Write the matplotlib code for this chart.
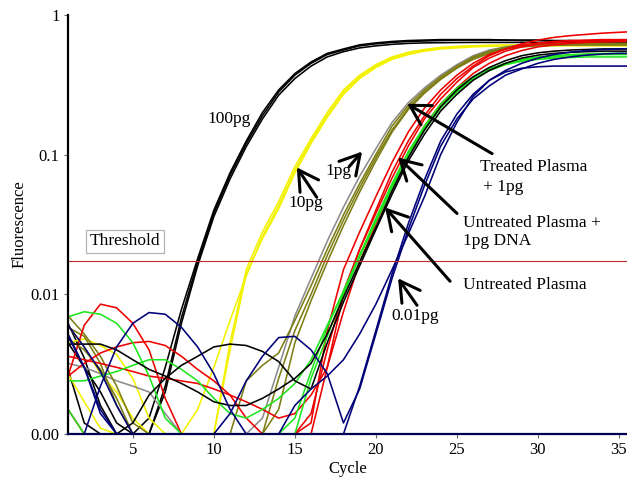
import matplotlib
matplotlib.use("Agg")
import matplotlib.pyplot as plt
from matplotlib.ticker import FixedLocator, FixedFormatter, NullLocator

plt.rcParams['font.family'] = ['Liberation Serif', 'DejaVu Serif']

cycles = list(range(1, 37))

# 100 pg standard (black)
std_100pg_a = [0.0062, 0.0035, 0.0016, 0.001, 0.001, 0.001, 0.0022, 0.0068, 0.017, 0.038, 0.071, 0.12,
               0.19, 0.28, 0.37, 0.45, 0.52, 0.56, 0.60, 0.62, 0.635, 0.645, 0.65, 0.655,
               0.66, 0.66, 0.66, 0.66, 0.655, 0.655, 0.65, 0.65, 0.645, 0.645, 0.64, 0.64]
std_100pg_b = [0.0029, 0.0012, 0.001, 0.001, 0.001, 0.001, 0.0020, 0.0062, 0.016, 0.036, 0.067, 0.114,
               0.18, 0.266, 0.35, 0.43, 0.50, 0.545, 0.58, 0.60, 0.615, 0.625, 0.63, 0.632,
               0.634, 0.635, 0.635, 0.635, 0.635, 0.634, 0.633, 0.632, 0.631, 0.63, 0.63, 0.63]
std_100pg_c = [0.0045, 0.0030, 0.0020, 0.0012, 0.001, 0.0013, 0.0030, 0.0078, 0.018, 0.040, 0.074, 0.125,
               0.20, 0.29, 0.38, 0.46, 0.53, 0.57, 0.61, 0.63, 0.645, 0.655, 0.66, 0.665,
               0.665, 0.665, 0.665, 0.66, 0.66, 0.66, 0.655, 0.655, 0.65, 0.65, 0.65, 0.65]

# 10 pg standard (yellow)
std_10pg_a = [0.0060, 0.0042, 0.0027, 0.0020, 0.0013, 0.001, 0.001, 0.001, 0.0015, 0.0030, 0.0065, 0.0135,
              0.026, 0.043, 0.077, 0.125, 0.19, 0.28, 0.36, 0.43, 0.49, 0.53, 0.56, 0.58,
              0.59, 0.60, 0.603, 0.605, 0.606, 0.607, 0.607, 0.607, 0.606, 0.605, 0.604, 0.603]
std_10pg_b = [0.0045, 0.0048, 0.0043, 0.0037, 0.0025, 0.0013, 0.001, 0.001, 0.001, 0.0010, 0.0045, 0.015,
              0.028, 0.046, 0.082, 0.13, 0.20, 0.29, 0.37, 0.44, 0.50, 0.54, 0.565, 0.585,
              0.595, 0.60, 0.605, 0.608, 0.61, 0.61, 0.61, 0.61, 0.61, 0.61, 0.61, 0.61]
std_10pg_c = [0.0027, 0.0017, 0.0011, 0.001, 0.001, 0.001, 0.001, 0.001, 0.001, 0.001, 0.0040, 0.014,
              0.025, 0.041, 0.074, 0.12, 0.185, 0.27, 0.35, 0.42, 0.48, 0.52, 0.55, 0.57,
              0.58, 0.59, 0.595, 0.598, 0.60, 0.60, 0.60, 0.60, 0.60, 0.60, 0.60, 0.60]

# 1 pg standard / treated plasma + 1 pg (olive, grey)
treated_1pg_a = [0.0058, 0.0050, 0.0032, 0.0016, 0.001, 0.001, 0.001, 0.001, 0.001, 0.001, 0.0010, 0.0024,
                 0.0031, 0.0038, 0.0065, 0.0115, 0.021, 0.037, 0.062, 0.10, 0.16, 0.225, 0.29, 0.36,
                 0.43, 0.50, 0.55, 0.585, 0.605, 0.615, 0.62, 0.622, 0.624, 0.625, 0.625, 0.625]
treated_1pg_b = [0.0048, 0.0040, 0.0029, 0.0018, 0.0010, 0.001, 0.001, 0.001, 0.001, 0.001, 0.001, 0.001,
                 0.0010, 0.0025, 0.0055, 0.0100, 0.019, 0.034, 0.058, 0.095, 0.15, 0.215, 0.28, 0.35,
                 0.42, 0.49, 0.54, 0.575, 0.595, 0.605, 0.61, 0.61, 0.61, 0.61, 0.61, 0.61]
treated_1pg_c = [0.0070, 0.0052, 0.0036, 0.0022, 0.0012, 0.001, 0.001, 0.001, 0.001, 0.001, 0.001, 0.001,
                 0.001, 0.0015, 0.0045, 0.0090, 0.017, 0.031, 0.054, 0.09, 0.145, 0.21, 0.275, 0.345,
                 0.415, 0.48, 0.53, 0.57, 0.59, 0.60, 0.605, 0.608, 0.61, 0.61, 0.61, 0.61]
std_1pg = [0.0032, 0.0030, 0.0027, 0.0024, 0.0022, 0.0020, 0.0014, 0.001, 0.001, 0.001, 0.001, 0.001,
           0.0013, 0.0030, 0.0070, 0.013, 0.024, 0.042, 0.07, 0.11, 0.17, 0.235, 0.30, 0.37,
           0.44, 0.51, 0.56, 0.59, 0.61, 0.62, 0.62, 0.62, 0.62, 0.62, 0.62, 0.62]

# Untreated plasma + 1 pg DNA (red)
spiked_a = [0.0026, 0.0060, 0.0085, 0.0080, 0.0062, 0.0040, 0.0018, 0.001, 0.001, 0.001, 0.001, 0.001,
            0.001, 0.001, 0.001, 0.001, 0.0030, 0.0100, 0.021, 0.040, 0.075, 0.125, 0.19, 0.27,
            0.35, 0.43, 0.51, 0.57, 0.62, 0.66, 0.69, 0.71, 0.725, 0.74, 0.75, 0.76]
spiked_b = [0.0026, 0.0032, 0.0038, 0.0042, 0.0045, 0.0046, 0.0043, 0.0036, 0.0029, 0.0024, 0.0019, 0.0013,
            0.001, 0.001, 0.001, 0.0014, 0.0040, 0.0105, 0.021, 0.038, 0.068, 0.115, 0.18, 0.25,
            0.33, 0.42, 0.49, 0.55, 0.59, 0.615, 0.63, 0.64, 0.645, 0.65, 0.655, 0.655]
spiked_c = [0.0036, 0.0034, 0.0032, 0.0030, 0.0028, 0.0026, 0.0025, 0.0024, 0.0023, 0.0021, 0.0019, 0.0017,
            0.0015, 0.0013, 0.0014, 0.0019, 0.0030, 0.0075, 0.017, 0.032, 0.059, 0.10, 0.16, 0.23,
            0.30, 0.38, 0.45, 0.51, 0.555, 0.59, 0.61, 0.625, 0.635, 0.64, 0.645, 0.645]
spiked_d = [0.0015, 0.0010, 0.001, 0.001, 0.001, 0.001, 0.001, 0.001, 0.001, 0.001, 0.001, 0.001,
            0.001, 0.001, 0.001, 0.0012, 0.0055, 0.0150, 0.028, 0.050, 0.088, 0.145, 0.215, 0.29,
            0.37, 0.45, 0.52, 0.57, 0.605, 0.63, 0.645, 0.655, 0.66, 0.665, 0.665, 0.665]

# Untreated plasma (green, black)
plasma_a = [0.0069, 0.0075, 0.0072, 0.0062, 0.0045, 0.0026, 0.0013, 0.001, 0.001, 0.001, 0.001, 0.001,
            0.001, 0.001, 0.0013, 0.0028, 0.0058, 0.0105, 0.019, 0.034, 0.06, 0.10, 0.155, 0.22,
            0.29, 0.35, 0.40, 0.44, 0.465, 0.48, 0.49, 0.495, 0.50, 0.50, 0.50, 0.50]
plasma_b = [0.0024, 0.0024, 0.0026, 0.0028, 0.0031, 0.0034, 0.0034, 0.0029, 0.0024, 0.0018, 0.0014, 0.0013,
            0.0015, 0.0018, 0.0023, 0.0034, 0.0060, 0.0105, 0.019, 0.035, 0.062, 0.105, 0.16, 0.23,
            0.30, 0.36, 0.41, 0.45, 0.48, 0.50, 0.51, 0.52, 0.525, 0.53, 0.53, 0.53]
plasma_c = [0.0015, 0.001, 0.001, 0.001, 0.001, 0.001, 0.001, 0.001, 0.001, 0.001, 0.001, 0.001,
            0.001, 0.001, 0.0010, 0.0025, 0.0050, 0.0100, 0.0185, 0.033, 0.058, 0.098, 0.15, 0.215,
            0.28, 0.345, 0.40, 0.445, 0.475, 0.49, 0.50, 0.51, 0.515, 0.52, 0.52, 0.52]
plasma_d = [0.0044, 0.0044, 0.0044, 0.0040, 0.0034, 0.0029, 0.0026, 0.0023, 0.0020, 0.0017, 0.0016, 0.0016,
            0.0018, 0.0021, 0.0025, 0.0032, 0.0052, 0.0095, 0.017, 0.030, 0.055, 0.095, 0.15, 0.22,
            0.29, 0.36, 0.42, 0.47, 0.51, 0.535, 0.55, 0.56, 0.565, 0.57, 0.57, 0.57]
plasma_e = [0.001, 0.001, 0.001, 0.001, 0.0012, 0.0019, 0.0025, 0.0031, 0.0036, 0.0042, 0.0044, 0.0043,
            0.0039, 0.0033, 0.0024, 0.0021, 0.0045, 0.0088, 0.0160, 0.029, 0.052, 0.09, 0.14, 0.205,
            0.27, 0.34, 0.40, 0.45, 0.49, 0.515, 0.53, 0.54, 0.545, 0.55, 0.55, 0.55]

# 0.01 pg standard and no-template control (navy)
std_001pg_a = [0.0052, 0.0030, 0.0015, 0.001, 0.001, 0.001, 0.001, 0.001, 0.001, 0.001, 0.0014, 0.0024,
               0.0036, 0.0049, 0.0050, 0.0040, 0.0027, 0.0012, 0.0021, 0.0052, 0.013, 0.029, 0.060, 0.115,
               0.18, 0.25, 0.31, 0.37, 0.41, 0.45, 0.48, 0.50, 0.515, 0.525, 0.53, 0.53]
std_001pg_b = [0.001, 0.0010, 0.0022, 0.0042, 0.0062, 0.0074, 0.0072, 0.0058, 0.0042, 0.0027, 0.0015, 0.001,
               0.001, 0.001, 0.001, 0.001, 0.001, 0.0010, 0.0022, 0.0055, 0.014, 0.032, 0.066, 0.125,
               0.195, 0.27, 0.34, 0.40, 0.45, 0.49, 0.52, 0.54, 0.555, 0.565, 0.57, 0.575]
std_001pg_c = [0.0060, 0.0042, 0.0028, 0.0016, 0.0010, 0.001, 0.001, 0.001, 0.001, 0.001, 0.001, 0.001,
               0.001, 0.0010, 0.0016, 0.0021, 0.0026, 0.0034, 0.0052, 0.0085, 0.0150, 0.027, 0.050, 0.10,
               0.17, 0.26, 0.34, 0.39, 0.415, 0.425, 0.43, 0.43, 0.43, 0.43, 0.43, 0.43]
ntc = [0.0050, 0.0030, 0.0014] + [0.001] * 33

threshold = 0.0172

y_ticks = [0.001, 0.01, 0.1, 1]
y_tick_labels = ['0.00', '0.01', '0.1', '1']
x_ticks = [5, 10, 15, 20, 25, 30, 35]

BLACK, YELLOW, OLIVE, GREY = '#000000', '#f2f200', '#7d7d14', '#8c8c8c'
RED, GREEN, NAVY = '#ee0000', '#1ee61e', '#000078'

series = [
    (std_100pg_a, BLACK), (std_100pg_b, BLACK), (std_100pg_c, BLACK),
    (std_10pg_a, YELLOW), (std_10pg_b, YELLOW), (std_10pg_c, YELLOW),
    (std_1pg, GREY),
    (treated_1pg_a, OLIVE), (treated_1pg_b, OLIVE), (treated_1pg_c, OLIVE),
    (spiked_a, RED), (spiked_b, RED), (spiked_c, RED), (spiked_d, RED),
    (plasma_a, GREEN), (plasma_b, GREEN), (plasma_c, GREEN),
    (plasma_d, BLACK), (plasma_e, BLACK),
    (std_001pg_a, NAVY), (std_001pg_b, NAVY), (std_001pg_c, NAVY), (ntc, NAVY),
]

fig = plt.figure(figsize=(6.27, 4.84), dpi=100)
ax = fig.add_axes([0.1085, 0.1033, 0.8915, 0.866])

for vals, col in series:
    ax.plot(cycles, vals, color=col, lw=1.15, solid_joinstyle='round')

ax.axhline(threshold, color='#c42a2a', lw=0.8)

ax.set_yscale('log')
ax.set_ylim(0.001, 1)
ax.set_xlim(1, 35.5)
ax.yaxis.set_major_locator(FixedLocator(y_ticks))
ax.yaxis.set_major_formatter(FixedFormatter(y_tick_labels))
ax.yaxis.set_minor_locator(NullLocator())
ax.set_xticks(x_ticks)
ax.tick_params(axis='both', labelsize=12, length=3, width=0.8, color='#666666', pad=3)

for side in ('top', 'right'):
    ax.spines[side].set_visible(False)
ax.spines['left'].set_linewidth(1.6)
ax.spines['bottom'].set_linewidth(1.6)
ax.spines['bottom'].set_color('#000050')

ax.set_xlabel('Cycle', fontsize=12, labelpad=2)
ax.set_ylabel('Fluorescence', fontsize=12, labelpad=2)

txt = dict(fontsize=12.5, color='black')
ax.text(10.94, 0.181, '100pg', ha='center', va='center', **txt)
ax.text(15.69, 0.0447, '10pg', ha='center', va='center', **txt)
ax.text(17.67, 0.0757, '1pg', ha='center', va='center', **txt)
ax.text(26.43, 0.082, 'Treated Plasma', ha='left', va='center', **txt)
ax.text(26.60, 0.059, '+ 1pg', ha='left', va='center', **txt)
ax.text(25.38, 0.0322, 'Untreated Plasma +', ha='left', va='center', **txt)
ax.text(25.38, 0.0239, '1pg DNA', ha='left', va='center', **txt)
ax.text(25.38, 0.0116, 'Untreated Plasma', ha='left', va='center', **txt)
ax.text(22.42, 0.00697, '0.01pg', ha='center', va='center', **txt)
ax.text(4.52, 0.0239, 'Threshold', ha='center', va='center', fontsize=12.5,
        bbox=dict(boxstyle='square,pad=0.2', fc='white', ec='#b4b4b4', lw=0.9))

arrow = dict(arrowstyle='->,head_length=0.7,head_width=0.4', lw=2.2, color='black',
             shrinkA=0, shrinkB=0, mutation_scale=20)
arrows = [
    ((15.12, 0.081), (16.35, 0.0495)),
    ((19.15, 0.105), (18.35, 0.082)),
    ((21.93, 0.231), (27.17, 0.1016)),
    ((21.37, 0.0953), (25.01, 0.0379)),
    ((20.57, 0.0418), (24.58, 0.0124)),
    ((21.37, 0.0130), (22.54, 0.00834)),
]
for tip, tail in arrows:
    ax.annotate('', xy=tip, xytext=tail, arrowprops=arrow)

fig.savefig('out.png', dpi=100)
